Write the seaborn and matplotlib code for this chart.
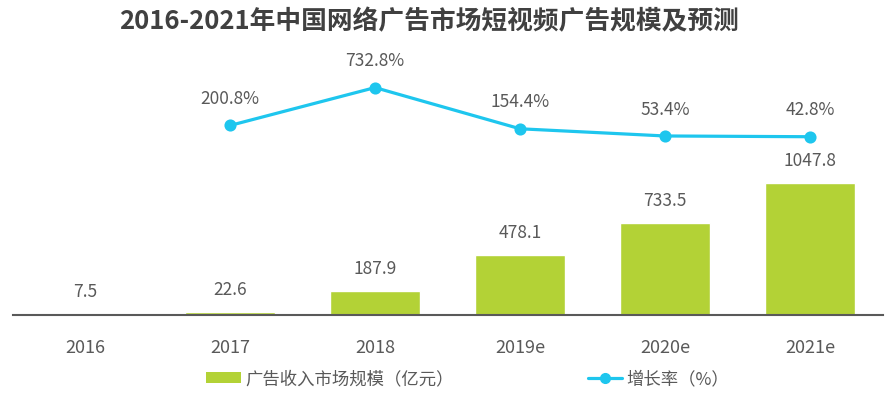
import numpy as np
import pandas as pd
import matplotlib
matplotlib.use('Agg')
import matplotlib.pyplot as plt
import seaborn as sns
from matplotlib.patches import Patch
from matplotlib.lines import Line2D

# data
years = ['2016', '2017', '2018', '2019e', '2020e', '2021e']
ad_revenue = [7.5, 22.6, 187.9, 478.1, 733.5, 1047.8]  # 亿元
growth = [np.nan, 200.8, 732.8, 154.4, 53.4, 42.8]     # %

title = '2016-2021年中国网络广告市场短视频广告规模及预测'
bar_label = '广告收入市场规模（亿元）'
line_label = '增长率（%）'

green = '#b3d236'
cyan = '#1ec6ee'
txt = '#595959'

sns.set_style('white')
plt.rcParams['font.family'] = ['Noto Sans CJK SC', 'DejaVu Sans']

df = pd.DataFrame({'year': years, 'revenue': ad_revenue, 'growth': growth})

fig = plt.figure(figsize=(8.92, 3.93), dpi=100)
ax = fig.add_axes([12.5 / 892, 1 - 315 / 393, 870 / 892, 255 / 393])

sns.barplot(data=df, x='year', y='revenue', order=years, color=green,
            saturation=1, width=0.62, ax=ax)
ax.set_ylim(0, 2030)
ax.set_xlim(-0.5, 5.5)
for i, v in enumerate(ad_revenue):
    ax.annotate(f'{v:.1f}', (i, v), xytext=(0, 16), textcoords='offset points',
                ha='center', va='center', fontsize=12.5, color=txt)

# growth line on its own scale, above the bars
ax2 = ax.twinx()
sns.pointplot(data=df, x='year', y='growth', order=years, color=cyan,
              errorbar=None, markers='o', markersize=7, linewidth=2.3, ax=ax2)
ax2.set_ylim(-2460, 1120)
ax2.set_xlim(-0.5, 5.5)
for i, v in enumerate(growth):
    if np.isnan(v):
        continue
    ax2.annotate(f'{v:.1f}%', (i, v), xytext=(0, 19), textcoords='offset points',
                 ha='center', va='center', fontsize=12.5, color=txt)

for a in (ax, ax2):
    a.set_xlabel('')
    a.set_ylabel('')
    a.set_yticks([])
    for s in ['top', 'right', 'left']:
        a.spines[s].set_visible(False)
ax2.spines['bottom'].set_visible(False)
ax.spines['bottom'].set_color('#595959')
ax.spines['bottom'].set_linewidth(1.5)
ax.tick_params(axis='x', length=0, pad=17, labelsize=13, labelcolor=txt)

handles = [Patch(facecolor=green, edgecolor='none'),
           Line2D([0], [0], color=cyan, lw=2.3, marker='o', markersize=7)]
fig.legend(handles, [bar_label, line_label], loc='center', ncol=2,
           bbox_to_anchor=(468 / 892, 1 - 379 / 393), frameon=False,
           fontsize=12.5, labelcolor=txt, handlelength=2.0, handleheight=0.6,
           handletextpad=0.25, columnspacing=7.7)

fig.text(429 / 892, 1 - 22 / 393, title, ha='center', va='center',
         fontsize=18.5, fontweight='bold', color='#404040')

fig.savefig('out.png', dpi=100)
